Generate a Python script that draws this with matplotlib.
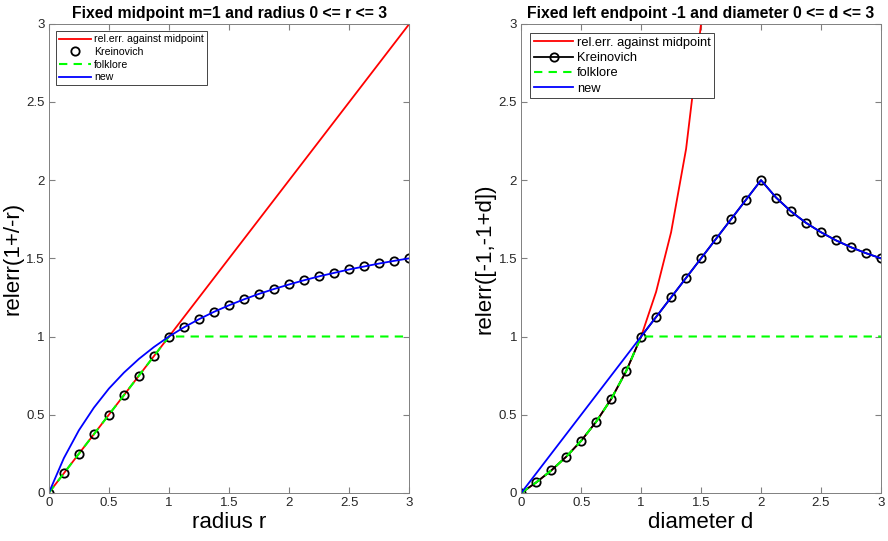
import numpy as np
import matplotlib.pyplot as plt

plt.rcParams['font.family'] = ['Liberation Sans', 'DejaVu Sans']

# ---------------------------------------------------- left panel data (radius r)
r = [0, 0.125, 0.25, 0.375, 0.5, 0.625, 0.75, 0.875, 1.0, 1.125, 1.25, 1.375, 1.5,
     1.625, 1.75, 1.875, 2.0, 2.125, 2.25, 2.375, 2.5, 2.625, 2.75, 2.875, 3.0]
r_mid = [0, 0.125, 0.25, 0.375, 0.5, 0.625, 0.75, 0.875, 1.0, 1.125, 1.25, 1.375, 1.5,
         1.625, 1.75, 1.875, 2.0, 2.125, 2.25, 2.375, 2.5, 2.625, 2.75, 2.875, 3.0]
r_krei = [0, 0.125, 0.25, 0.375, 0.5, 0.625, 0.75, 0.875, 1.0, 1.059, 1.111, 1.158, 1.2,
          1.238, 1.273, 1.304, 1.333, 1.36, 1.385, 1.407, 1.429, 1.448, 1.467, 1.484, 1.5]
r_folk = [0, 0.125, 0.25, 0.375, 0.5, 0.625, 0.75, 0.875, 1.0, 1, 1, 1, 1,
          1, 1, 1, 1, 1, 1, 1, 1, 1, 1, 1, 1]
r_new = [0, 0.222, 0.4, 0.545, 0.667, 0.769, 0.857, 0.933, 1.0, 1.059, 1.111, 1.158, 1.2,
         1.238, 1.273, 1.304, 1.333, 1.36, 1.385, 1.407, 1.429, 1.448, 1.467, 1.484, 1.5]

# ---------------------------------------------------- right panel data (diameter d)
d = r
d_mid = [0, 0.067, 0.143, 0.231, 0.333, 0.455, 0.6, 0.778, 1.0, 1.286, 1.667, 2.2, 3.0,
         4.333]
d_krei = [0, 0.067, 0.143, 0.231, 0.333, 0.455, 0.6, 0.778, 1.0, 1.125, 1.25, 1.375, 1.5,
          1.625, 1.75, 1.875, 2.0, 1.889, 1.8, 1.727, 1.667, 1.615, 1.571, 1.533, 1.5]
d_folk = [0, 0.067, 0.143, 0.231, 0.333, 0.455, 0.6, 0.778, 1.0, 1, 1, 1, 1,
          1, 1, 1, 1, 1, 1, 1, 1, 1, 1, 1, 1]
d_new = [0, 0.125, 0.25, 0.375, 0.5, 0.625, 0.75, 0.875, 1.0, 1.125, 1.25, 1.375, 1.5,
         1.625, 1.75, 1.875, 2.0, 1.889, 1.8, 1.727, 1.667, 1.615, 1.571, 1.533, 1.5]

fig = plt.figure(figsize=(8.88, 5.41), dpi=100)
ax1 = fig.add_axes([0.055, 0.089, 0.406, 0.867])
ax2 = fig.add_axes([0.587, 0.089, 0.405, 0.867])


def style(ax):
    ax.set_xlim(0, 3)
    ax.set_ylim(0, 3)
    ax.set_xticks([0, 0.5, 1, 1.5, 2, 2.5, 3])
    ax.set_yticks([0, 0.5, 1, 1.5, 2, 2.5, 3])
    ax.set_xticklabels(['0', '0.5', '1', '1.5', '2', '2.5', '3'])
    ax.set_yticklabels(['0', '0.5', '1', '1.5', '2', '2.5', '3'])
    ax.tick_params(direction='in', top=True, right=True, length=4,
                   labelcolor='#262626', labelsize=9.5, pad=3, color='#808080')
    for s in ax.spines.values():
        s.set_color('#808080')
        s.set_linewidth(0.7)


# ---------------------------------------------------- left
ax1.plot(r, r_mid, color='red', lw=1.3, label='rel.err. against midpoint')
ax1.plot(r, r_krei, 'o', color='black', mfc='none', ms=6, mew=1.3, label='Kreinovich')
ax1.plot(r, r_folk, '--', color='#00ff00', lw=1.5, dashes=(4, 3), label='folklore')
ax1.plot(r, r_new, color='blue', lw=1.3, label='new')
style(ax1)
ax1.set_title('Fixed midpoint m=1 and radius 0 <= r <= 3', fontsize=11.3,
              fontweight='bold', pad=4)
ax1.set_xlabel('radius r', fontsize=16, labelpad=2)
ax1.set_ylabel('relerr(1+/-r)', fontsize=16, labelpad=2)
leg1 = ax1.legend(loc='upper left', fontsize=7.6, fancybox=False, framealpha=1,
                  edgecolor='#262626', handlelength=3, borderpad=0.3,
                  labelspacing=0.25, handletextpad=0.3, borderaxespad=0.7)
leg1.get_frame().set_linewidth(0.6)

# ---------------------------------------------------- right
ax2.plot(d[:len(d_mid)], d_mid, color='red', lw=1.3, label='rel.err. against midpoint')
ax2.plot(d, d_krei, '-o', color='black', mfc='none', ms=6, mew=1.3, lw=1.3,
         label='Kreinovich')
ax2.plot(d, d_folk, '--', color='#00ff00', lw=1.5, dashes=(4, 3), label='folklore')
ax2.plot(d, d_new, color='blue', lw=1.3, label='new')
style(ax2)
ax2.set_title('Fixed left endpoint -1 and diameter 0 <= d <= 3', fontsize=11.3,
              fontweight='bold', pad=4)
ax2.set_xlabel('diameter d', fontsize=16, labelpad=2)
ax2.set_ylabel('relerr([-1,-1+d])', fontsize=16, labelpad=2)
leg2 = ax2.legend(loc='upper left', fontsize=9.3, fancybox=False, framealpha=1,
                  edgecolor='#262626', handlelength=3, borderpad=0.3,
                  labelspacing=0.25, handletextpad=0.3, borderaxespad=0.7)
leg2.get_frame().set_linewidth(0.6)

plt.savefig('out.png', dpi=100)
